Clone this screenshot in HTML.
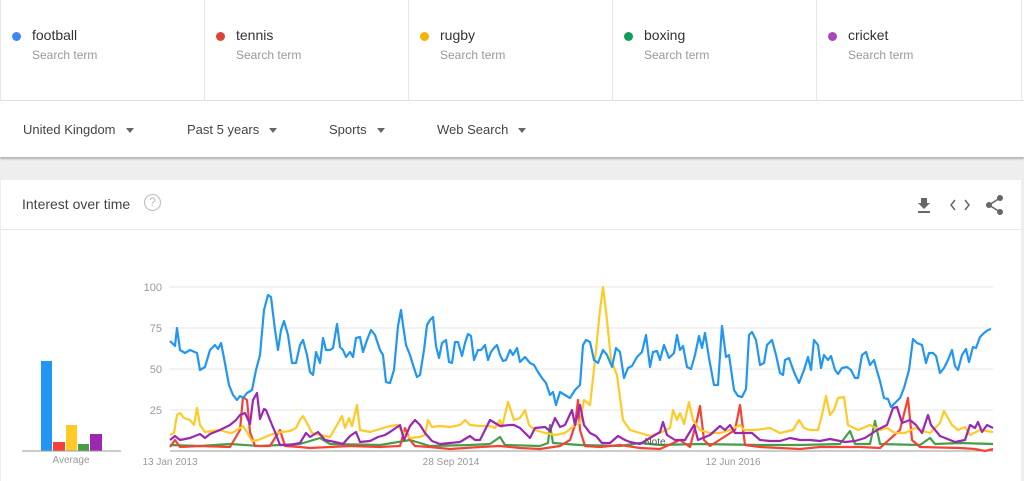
<!DOCTYPE html>
<html><head><meta charset="utf-8"><style>
body{margin:0;width:1024px;height:481px;overflow:hidden;background:#eeeeee;font-family:"Liberation Sans",Arial,sans-serif;position:relative}
.abs{position:absolute}
.top{left:0;top:0;width:1024px;height:100px;background:#fff;border-bottom:1px solid #e0e0e0}
.cell{position:absolute;top:0;height:100px;width:204px;border-left:1px solid #e6e6e6}
.dot{position:absolute;left:11px;top:32px;width:9px;height:9px;border-radius:50%}
.term{position:absolute;left:31px;top:27px;font-size:14px;color:#333}
.sub{position:absolute;left:31px;top:48px;font-size:12px;color:#999}
.filters{left:0;top:101px;width:1024px;height:56px;background:#fff;box-shadow:0 2px 2px rgba(0,0,0,.25)}
.f{position:absolute;top:21px;font-size:13px;color:#444}
.f:after{content:"";display:inline-block;margin-left:10px;border-left:4px solid transparent;border-right:4px solid transparent;border-top:5px solid #666;vertical-align:middle}
.card{left:1px;top:180px;width:1020px;height:301px;background:#fff}
</style></head><body>
<div class="abs top">
<div class="cell" style="left:0"><div class="dot" style="background:#4285f4"></div><div class="term">football</div><div class="sub">Search term</div></div>
<div class="cell" style="left:204px"><div class="dot" style="background:#db4437"></div><div class="term">tennis</div><div class="sub">Search term</div></div>
<div class="cell" style="left:408px"><div class="dot" style="background:#f4b400"></div><div class="term">rugby</div><div class="sub">Search term</div></div>
<div class="cell" style="left:612px"><div class="dot" style="background:#0f9d58"></div><div class="term">boxing</div><div class="sub">Search term</div></div>
<div class="cell" style="left:816px;border-right:1px solid #e6e6e6"><div class="dot" style="background:#ab47bc"></div><div class="term">cricket</div><div class="sub">Search term</div></div>
</div>
<div class="abs filters">
<div class="f" style="left:23px">United Kingdom</div>
<div class="f" style="left:187px">Past 5 years</div>
<div class="f" style="left:329px">Sports</div>
<div class="f" style="left:437px">Web Search</div>
</div>
<div class="abs card"></div>
<div class="abs" style="left:22px;top:196px;font-size:14px;color:#444">Interest over time</div>
<div class="abs" style="left:144px;top:194px;width:15px;height:15px;border:1.5px solid #bbb;border-radius:50%;color:#bbb;font-size:12px;text-align:center;line-height:15px">?</div>
<div class="abs" style="left:1px;top:229px;width:1020px;height:1px;background:#e6e6e6"></div>
<svg class="abs" style="left:0;top:0" width="1024" height="481">
<g fill="#666"><path d="M921 198h6v5h3l-6 6-6-6h3z"/><rect x="918" y="211" width="12" height="2"/></g>
<path d="M955 200l-4 5 4 5M965 200l4 5-4 5" stroke="#666" stroke-width="1.5" fill="none"/>
<g fill="#666"><circle cx="1000" cy="198" r="3"/><circle cx="989" cy="205" r="3"/><circle cx="1000" cy="212" r="3"/></g>
<path d="M1000 198L989 205 1000 212" stroke="#666" stroke-width="1.5" fill="none"/>
<g stroke="#e6e6e6" stroke-width="1"><line x1="170" x2="993" y1="287" y2="287"/><line x1="170" x2="993" y1="328" y2="328"/><line x1="170" x2="993" y1="369" y2="369"/><line x1="170" x2="993" y1="410" y2="410"/></g>
<line x1="170" x2="993" y1="451" y2="451" stroke="#999"/>
<g font-size="11" fill="#999" text-anchor="end"><text x="162" y="291">100</text><text x="162" y="332">75</text><text x="162" y="373">50</text><text x="162" y="414">25</text></g>
<g font-size="10" fill="#999" text-anchor="middle"><text x="170" y="465">13 Jan 2013</text><text x="451" y="465">28 Sep 2014</text><text x="733" y="465">12 Jun 2016</text><text x="71" y="463">Average</text></g>
<rect x="41" y="361" width="11" height="90" fill="#2196f3"/>
<rect x="53" y="442" width="12" height="9" fill="#f44336"/>
<rect x="66" y="425" width="11" height="26" fill="#ffca28"/>
<rect x="78" y="444" width="11" height="7" fill="#43a047"/>
<rect x="90" y="434" width="12" height="17" fill="#9c27b0"/>
<line x1="22" x2="121" y1="451" y2="451" stroke="#999"/>
<g fill="none" stroke-width="2.2" stroke-linejoin="round">
<polyline stroke="#43a047" points="170,445 200,446 230,444 260,446 300,444 320,438 330,444 380,445 410,440 430,446 470,445 490,444 500,437 505,445 540,446 548,443 550,425 553,443 580,445 620,446 640,443 660,445 700,444 760,445 800,445 840,444 850,431 855,444 870,444 875,421 880,444 920,445 930,438 935,444 960,443 993,444"/>
<polyline stroke="#f44336" points="170,447 175,440 180,447 200,446 230,447 240,430 243,397 247,400 250,432 255,446 270,446 280,430 285,446 300,447 310,448 330,447 350,446 380,447 400,446 405,428 410,440 415,446 430,447 450,449 480,447 500,446 520,448 540,449 560,446 570,440 575,425 578,400 580,430 585,446 600,447 620,445 640,448 660,449 680,440 690,447 697,420 700,406 704,440 710,446 735,430 740,405 745,445 760,447 800,449 820,447 860,447 880,448 900,430 905,410 908,398 912,440 920,447 960,448 975,449 985,451 993,449"/>
<polyline stroke="#ffca28" points="170,435 174,433 177,415 180,413 184,418 190,420 194,425 197,408 200,425 205,432 212,431 220,430 226,432 232,433 240,428 243,426 248,434 252,441 258,440 263,438 270,435 276,433 282,432 290,431 296,428 300,420 303,416 308,425 312,433 320,435 330,437 337,425 342,416 345,428 349,418 352,426 357,405 360,430 370,432 380,429 390,426 397,425 402,431 410,438 420,437 425,435 428,420 432,427 440,426 450,427 460,425 465,420 470,425 480,426 490,426 495,428 500,420 502,427 508,402 514,420 520,418 525,410 529,425 535,430 545,433 555,435 565,433 575,425 580,423 584,400 590,405 595,360 600,310 603,287 607,320 611,360 617,375 623,420 630,430 640,433 650,436 660,433 670,428 673,410 677,420 680,413 684,424 689,402 693,420 700,430 710,433 720,433 730,430 740,425 744,430 755,430 770,428 780,433 793,430 799,420 804,428 810,430 818,430 822,415 826,396 830,415 834,410 838,398 844,397 848,425 858,430 870,425 880,430 887,428 895,433 905,433 915,428 920,430 930,433 940,423 944,411 952,425 958,430 965,427 970,435 980,430 993,432"/>
<polyline stroke="#9c27b0" points="170,440 175,436 180,440 190,438 200,434 205,438 210,434 220,430 230,425 236,420 240,415 245,413 250,424 253,400 257,393 260,419 264,409 266,410 270,420 275,432 280,445 290,445 300,443 306,433 310,437 318,432 325,440 335,442 343,444 350,436 356,432 360,442 370,441 378,437 385,435 390,432 400,425 404,440 410,426 415,420 420,425 425,433 432,441 440,444 450,443 460,442 470,436 475,440 480,440 486,428 490,420 500,426 510,425 514,425 520,428 530,438 535,428 545,427 550,431 555,418 560,427 565,425 572,410 575,425 580,405 584,425 590,433 596,436 602,443 610,443 618,436 625,440 630,442 640,444 650,438 660,432 663,422 667,435 675,440 685,440 694,425 698,440 710,435 720,426 725,430 730,425 735,433 745,433 752,433 760,440 770,441 780,441 790,438 800,440 810,440 820,441 830,439 845,442 855,441 865,438 877,430 887,425 893,408 897,407 902,423 910,420 916,425 922,433 928,415 931,425 940,436 955,442 965,440 970,425 975,428 978,422 982,432 987,425 993,428"/>
<polyline stroke="#2196f3" points="170,341 175,346 177,328 180,350 185,353 190,350 197,353 200,370 205,367 210,350 215,345 218,349 221,343 224,358 229,385 233,395 237,400 240,396 243,398 247,393 252,390 256,370 260,355 264,310 268,295 271,297 275,330 278,350 281,330 284,321 288,335 292,363 296,363 300,345 303,340 307,355 310,372 313,375 316,352 320,363 323,338 326,350 330,350 333,348 337,324 340,347 343,350 346,357 350,352 353,357 356,338 360,337 363,352 367,340 371,330 375,335 380,350 383,355 386,382 390,383 394,370 398,326 401,310 403,325 406,345 410,355 413,365 417,377 420,375 424,350 427,325 430,320 433,317 436,346 439,358 442,343 446,340 449,362 452,363 455,342 458,342 462,356 465,343 468,334 471,336 474,360 478,350 481,350 485,345 488,360 491,352 494,348 497,345 500,355 503,361 506,360 510,350 513,355 517,348 520,362 525,357 530,363 534,365 538,372 542,378 546,383 550,395 553,392 556,405 560,392 565,395 570,398 575,390 580,385 583,345 586,340 590,342 594,360 598,363 603,350 607,355 612,367 616,348 620,352 624,378 628,368 632,366 637,357 642,352 646,335 650,367 653,352 657,351 660,360 664,345 669,358 674,353 677,335 680,350 683,346 687,367 691,369 695,355 699,336 702,348 705,333 709,358 714,385 718,385 722,326 726,357 729,355 734,390 738,396 742,397 746,389 749,335 752,332 756,340 760,365 764,363 767,345 772,340 776,355 780,373 783,375 785,360 789,358 794,372 799,383 804,370 808,357 811,370 814,340 818,345 821,368 824,355 828,360 831,356 835,370 838,374 842,368 847,367 851,370 855,378 858,378 862,355 866,352 870,365 874,360 877,371 880,381 884,398 888,399 891,407 895,403 900,398 904,388 909,370 913,339 917,343 922,345 926,363 929,353 933,353 936,356 940,373 944,368 948,360 952,350 955,366 958,370 962,355 966,349 969,362 973,347 976,348 980,337 984,333 988,330 991,329"/>
</g>
<text x="655" y="445" font-size="10" fill="#555" text-anchor="middle">Note</text>
</svg>
</body></html>
